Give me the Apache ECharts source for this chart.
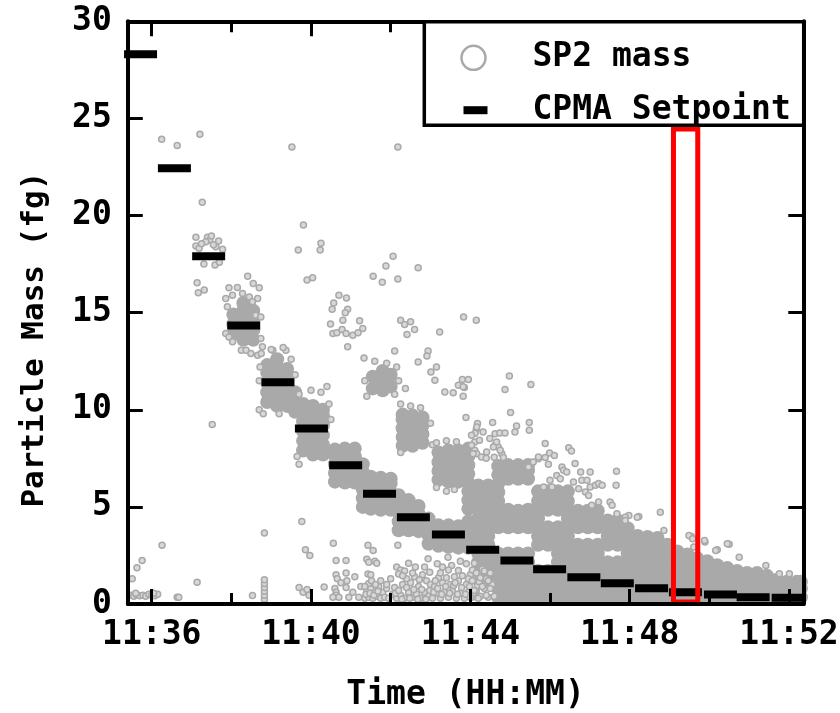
<!DOCTYPE html>
<html><head><meta charset="utf-8">
<script src="https://cdn.jsdelivr.net/npm/echarts@6/dist/echarts.min.js"></script>
<style>html,body{margin:0;padding:0;background:#fff}#c{width:840px;height:713px}</style>
</head><body><div id="c"></div>
<script>
const FONT = '"DejaVu Sans Mono", "Liberation Mono", monospace';

// ---- axes ----
const xMin = 35.4, xMax = 52.36;             // minutes after 11:00
const xTickValues = [36, 40, 44, 48, 52];
const xTickLabels = ['11:36', '11:40', '11:44', '11:48', '11:52'];
const xMinorTickValues = [38, 42, 46, 50];
const yMin = 0, yMax = 30, yInterval = 5;

// ---- CPMA setpoints (time in minutes after 11:00, mass in fg) ----
const setpointTimes = [35.72, 36.57, 37.43, 38.31, 39.17, 40.01, 40.87, 41.72, 42.57, 43.45,
                       44.31, 45.17, 45.99, 46.85, 47.69, 48.55, 49.40, 50.28, 51.10, 51.98];
const setpointMass  = [28.31, 22.43, 17.91, 14.34, 11.42, 9.03, 7.14, 5.68, 4.47, 3.58,
                       2.79, 2.24, 1.79, 1.38, 1.07, 0.81, 0.61, 0.49, 0.35, 0.32];

// ---- highlighted window (red box) ----
const highlightTimeRange = [49.10, 49.71];
const highlightMassRange = [0.1, 24.46];

// ---- SP2 mass: individual (isolated) particles [time, mass] ----
const sp2Sparse = [
 [36.25,23.93],[36.64,23.6],[37.21,24.19],[37.27,20.68],[39.52,23.53],[42.18,23.53],[37.52,9.24],
 [37.11,18.88],[37.40,18.88],[37.46,18.74],[37.36,18.65],[37.68,18.69],[37.11,18.43],[37.19,18.31],[37.61,18.39],[37.78,18.26],[37.31,17.5],[37.59,17.45],[37.14,16.54],[37.17,16.02],[37.32,16.16],[37.50,18.95],[37.25,18.55],[37.55,18.5],[37.7,17.6],
 [37.86,15.73],[38.03,15.9],[38.28,15.99],[38.45,15.81],[38.53,15.56],[38.66,15.73],[37.90,15.3],[38.61,14.87],[38.74,14.78],[37.86,13.93],[37.94,13.75],[38.03,13.5],[38.25,13.07],[38.37,13.07],[38.49,12.9],[38.74,13.67],[38.78,13.24],[38.66,12.81],[37.94,16.28],[38.41,16.88],[38.70,16.28],[38.15,16.3],[38.55,16.5],[39.04,13.07],[39.37,13.07],
 [38.75,12.9],[39.0,13.1],[39.3,13.2],[38.7,10.0],[39.5,12.6],[38.7,11.5],[39.6,11.8],[38.8,9.8],[39.2,9.8],[38.72,12.2],
 [39.7,10.8],[40.0,11.0],[40.25,10.9],[40.45,10.3],[39.65,7.6],[39.7,7.2],[40.4,11.2],[40.5,9.5],
 [39.81,19.51],[40.25,18.57],[39.68,18.22],[40.23,18.22],[39.90,16.68],[40.04,16.8],
 [40.70,15.9],[40.89,15.76],[40.57,15.5],[40.53,15.18],[40.92,15.18],[40.86,14.99],[40.80,14.61],[40.49,14.41],[41.22,14.58],[40.55,13.93],[40.65,13.96],[40.78,14.13],[40.88,13.93],[41.05,13.84],[41.18,13.96],[41.30,14.19],[40.92,13.24],
 [42.06,17.91],[41.88,17.4],[41.56,16.88],[41.79,16.56],[42.18,16.73],[42.69,17.31],
 [42.25,14.61],[42.35,14.39],[42.50,14.53],[42.60,14.13],[42.41,13.88],[43.23,14.01],[43.83,14.78],[44.15,14.61],
 [42.10,13.03],[42.94,13.03],[42.91,12.77],[42.69,12.46],[43.15,12.2],[43.01,11.95],[43.11,11.52],[43.80,11.56],[43.95,11.56],[43.70,11.26],[43.85,11.14],[43.36,10.92],[43.57,10.87],[43.82,10.7],[42.37,11.09],[41.33,12.67],
 [41.4,10.7],[42.1,10.8],[41.6,12.5],[41.9,12.4],[42.15,12.2],[41.35,11.5],[42.2,11.5],
 [42.25,10.3],[42.5,10.2],[42.75,10.1],[43.0,9.3],[43.05,8.2],[42.25,7.8],
 [43.15,8.3],[43.4,8.4],[43.65,8.35],[43.15,6.0],[43.4,5.8],[43.6,5.9],
 [44.98,11.74],[44.87,11.04],[45.52,11.3],[43.82,11.18],[45.01,9.86],[43.89,9.6],[45.48,9.34],[45.48,8.94],[44.56,9.34],[44.18,9.29],[44.15,9.0],[44.12,8.79],
 [44.16,9.11],[44.32,8.86],[44.03,8.69],[44.62,8.77],[44.74,8.8],[44.87,8.8],[45.12,8.86],[45.16,9.16],[44.11,8.34],[44.23,8.43],[44.49,8.52],[44.62,8.17],[44.70,8.08],[44.41,7.82],[44.79,7.74],[44.83,7.54],[44.11,7.91],[44.03,8.17],
 [44.66,8.34],[44.58,8.08],[44.75,7.91],[44.16,7.74],[44.07,7.74],[44.28,7.57],[44.4,7.5],[44.6,7.55],
 [45.88,8.26],[45.71,7.48],[45.88,7.54],[45.99,7.77],[46.11,7.65],[45.96,7.19],[46.47,8.05],[46.54,7.88],[46.63,7.23],[46.30,7.05],[46.34,6.88],[46.17,6.62],[46.26,6.45],[46.42,6.79],[46.0,6.37],[45.84,6.02],[46.05,6.02],
 [46.77,6.79],[47.01,6.79],[46.59,6.28],[46.80,6.37],[46.93,6.37],[46.72,5.94],[46.89,5.76],[47.01,6.02],[47.14,6.11],[47.22,6.2],[47.31,6.11],[47.67,6.83],[47.66,6.11],
 [47.51,5.25],[47.56,5.08],[47.22,5.25],[46.97,5.59],[47.05,5.08],[48.23,4.51],[47.98,4.56],[47.89,4.47],[47.68,4.65],[45.58,7.31],[45.71,7.57],[45.46,7.05],
 [48.19,4.47],[48.77,4.73],[48.86,3.79],[49.55,3.48],[49.61,2.93],[49.89,3.19],[50.20,2.79],[50.50,3.07],[50.75,2.41],[51.42,1.98],[51.76,1.56],[52.01,1.56],[47.89,4.3],[50.45,3.1],[50.16,2.76],[49.49,3.53],[49.58,3.36],[49.88,3.27],
 [35.48,0.45],[35.55,0.4],[35.62,0.48],[35.7,0.42],[35.78,0.45],[35.85,0.4],[35.93,0.5],[36.0,0.45],[36.08,0.42],[36.15,0.5],[36.05,0.55],[35.6,0.55],
 [35.51,1.3],[35.63,1.87],[35.76,2.24],[36.26,3.02],[36.64,0.35],[36.68,0.35],[37.14,1.12],[38.53,0.44],[38.83,3.65],
 [38.83,0.25],[38.83,0.45],[38.83,0.65],[38.83,0.85],[38.83,1.05],[38.83,1.25],
 [39.77,4.25],[39.86,2.79],[39.97,2.5],[39.7,0.85],[39.8,0.6],[39.9,0.75],[39.95,0.45],[40.33,0.87],[40.56,3.13],[40.63,2.24],[40.88,2.24],[40.63,1.5],[40.66,1.3],[40.88,1.6],[40.6,0.8],[40.63,0.6],[40.63,0.45],[40.88,0.85],
 [40.55,0.35],[40.7,0.35],[40.75,1.1],[40.9,1.2],[40.95,0.35],[41.05,0.6],[41.1,1.4],[41.2,0.35],[41.25,0.9],
 [41.43,3.02],[41.56,2.76],[41.4,2.3],[41.45,2.15],[41.6,2.2],[41.65,2.1],[41.43,1.55],[41.5,1.5],
 [41.35,0.3],[41.45,0.35],[41.55,0.3],[41.65,0.4],[41.4,0.65],[41.5,0.8],[41.6,0.6],[41.7,0.9],[41.45,1.05],[41.35,0.9],[41.75,0.3],[41.8,0.6],
 [41.38,0.5],[41.48,0.55],[41.58,0.45],[41.68,0.65],[41.52,1.2],[41.62,1.0],[41.75,1.2],[41.85,0.35],[41.9,0.8],[41.9,1.0],
 [42.18,3.02],[42.15,1.9],[42.25,1.75],[42.35,1.7],[42.2,1.55],
 [41.95,0.3],[42.05,0.5],[42.15,0.3],[42.25,0.45],[42.35,0.3],[42.45,0.6],[42.55,0.35],[42.65,0.5],[42.75,0.3],[42.85,0.6],[42.95,0.4],[42.1,0.85],[42.3,1.0],[42.5,1.1],[42.7,0.9],[42.9,1.2],[42.0,1.3],[42.6,1.4],[42.8,1.5],
 [42.12,0.55],[42.2,0.7],[42.28,0.25],[42.4,0.85],[42.48,0.3],[42.58,0.75],[42.68,0.25],[42.78,0.75],[42.88,0.25],[42.98,0.7],[42.4,1.3],[42.55,1.6],[42.72,1.25],[42.85,1.9],[43.0,1.0],[42.3,1.45],[42.62,1.9],[42.45,2.1],
 [42.94,2.33],[43.17,2.07],[42.98,1.64],[43.53,1.98],[43.7,1.73],[43.9,2.07],[44.2,1.64],[43.44,2.41],
 [43.05,0.3],[43.15,0.55],[43.25,0.3],[43.35,0.6],[43.45,0.35],[43.55,0.65],[43.65,0.3],[43.75,0.55],[43.85,0.3],[43.95,0.6],[44.05,0.35],[44.15,0.7],[43.1,0.9],[43.3,1.1],[43.5,1.0],[43.7,1.2],[43.9,1.0],[44.1,1.2],[43.2,1.35],[43.6,1.4],[44.0,1.5],[44.25,0.4],[44.35,0.8],[44.45,0.35],[44.55,1.0],[44.4,1.3],[44.3,1.8],[44.5,1.6],
 [43.08,0.6],[43.18,0.8],[43.28,0.5],[43.38,0.9],[43.48,0.55],[43.58,0.95],[43.68,0.5],[43.78,0.85],[43.88,0.5],[43.98,0.9],[44.08,0.55],[44.18,0.95],[43.12,1.2],[43.25,1.6],[43.4,1.35],[43.45,1.75],[43.62,1.1],[43.8,1.45],[43.95,1.3],[44.05,1.75],[44.22,1.15],[43.3,1.9],[43.75,2.2],[44.1,2.1],
 [44.0,0.35],[44.1,0.7],[44.2,0.3],[44.3,0.9],[44.4,0.45],[44.5,0.8],[44.05,1.2],[44.25,1.35],[44.45,1.2],[44.15,1.6],[44.35,1.7],[44.6,0.4]
];

// ---- SP2 mass: densely overlapping particles, per time column [time, mass, mass, ...] ----
const sp2DenseCols = [
 [38.05, 13.9, 14.4, 14.9],
 [38.3, 13.6, 14.1, 14.6, 15.1, 15.5],
 [38.55, 13.6, 14.1, 14.6, 15.1],
 [38.9, 10.4, 10.9, 11.4, 11.9, 12.3],
 [39.15, 10.2, 10.7, 11.2, 11.7, 12.2, 12.6],
 [39.4, 10.2, 10.7, 11.2, 11.7, 12.1],
 [39.6, 9.9, 10.4, 10.9],
 [39.8, 7.9, 8.4, 8.9, 9.4, 9.9, 10.3],
 [40.05, 7.7, 8.2, 8.7, 9.2, 9.7, 10.2],
 [40.3, 7.7, 8.2, 8.7, 9.2, 9.7, 10.0],
 [40.6, 6.3, 6.75, 7.2, 7.65, 7.95],
 [40.85, 6.25, 6.7, 7.15, 7.6, 8.0],
 [41.1, 6.25, 6.7, 7.15, 7.6, 8.0],
 [41.3, 5.0, 5.45, 5.9, 6.35, 6.8, 7.2],
 [41.5, 4.9, 5.35, 5.8, 6.25, 6.55],
 [41.75, 4.85, 5.3, 5.75, 6.2, 6.5],
 [42.0, 4.85, 5.3, 5.75, 6.2, 6.45],
 [42.2, 3.8, 4.25, 4.7, 5.15, 5.6],
 [42.45, 3.8, 4.25, 4.7, 5.15, 5.35],
 [42.7, 3.75, 4.2, 4.65, 5.05],
 [42.95, 3.1, 3.55, 4.0, 4.4],
 [43.2, 3.0, 3.45, 3.9, 4.05],
 [43.45, 2.95, 3.4, 3.85, 4.05],
 [43.7, 2.9, 3.35, 3.8, 4.0],
 [41.55, 11.1, 11.7],
 [41.8, 11.0, 11.5, 12.0],
 [42.0, 11.2, 11.8],
 [42.3, 8.15, 8.6, 9.05, 9.5, 9.75],
 [42.55, 8.15, 8.6, 9.05, 9.5, 9.7],
 [42.8, 8.3, 8.75, 9.2, 9.6],
 [43.2, 6.4, 6.85, 7.3, 7.8],
 [43.45, 6.3, 6.75, 7.2, 7.65, 7.9],
 [43.7, 6.3, 6.75, 7.2, 7.65, 7.9],
 [43.95, 2.9, 3.35, 3.8, 4.25, 4.9, 5.35, 5.8, 6.25, 6.7, 7.15, 7.6, 8.0],
 [44.2, 1.7, 2.15, 2.6, 3.05, 3.5, 3.95, 4.4, 4.85, 5.3, 5.75, 6.1],
 [44.45, 1.25, 1.7, 2.15, 2.6, 3.05, 3.5, 3.95, 4.4, 4.85, 5.3, 5.75, 6.1],
 [44.7, 0.35, 0.8, 1.25, 1.7, 2.15, 2.6, 3.95, 4.4, 4.85, 5.3, 5.75, 6.2, 6.65, 7.1],
 [44.95, 0.35, 0.8, 1.25, 1.7, 2.15, 2.6, 3.95, 4.4, 4.85, 6.45, 6.9, 7.15],
 [45.2, 0.35, 0.8, 1.25, 1.7, 2.15, 2.6, 3.95, 4.4, 4.8, 6.45, 6.9, 7.15],
 [45.45, 0.35, 0.8, 1.25, 1.7, 2.15, 2.6, 3.95, 4.4, 4.85, 6.45, 6.9, 7.15],
 [45.7, 0.35, 0.8, 1.25, 1.7, 3.05, 3.5, 3.95, 4.4, 4.85, 5.3, 5.8],
 [45.95, 0.35, 0.8, 1.25, 1.7, 3.05, 3.5, 3.95, 4.85, 5.3, 5.8],
 [46.2, 0.35, 0.8, 1.25, 1.7, 2.15, 2.6, 3.05, 3.5, 3.95, 4.85, 5.3, 5.8],
 [46.45, 0.35, 0.8, 1.25, 1.7, 2.15, 2.6, 3.05, 3.5, 3.95, 4.4, 4.85, 5.3, 5.8],
 [46.7, 0.35, 0.8, 1.25, 1.7, 2.15, 2.6, 3.05, 3.95, 4.4, 4.8],
 [46.95, 0.35, 0.8, 1.25, 1.7, 2.15, 2.6, 3.05, 3.95, 4.4, 4.8],
 [47.2, 0.35, 0.8, 1.25, 1.7, 2.15, 2.6, 3.05, 3.95, 4.4, 4.8],
 [47.45, 0.35, 0.8, 1.25, 1.7, 2.15, 3.05, 3.5, 3.95, 4.3],
 [47.7, 0.35, 0.8, 1.25, 1.7, 2.15, 3.05, 3.5, 3.95, 4.3],
 [47.95, 0.35, 0.8, 1.25, 1.7, 2.15, 2.6, 3.05, 3.5, 3.9],
 [48.2, 0.35, 0.8, 1.25, 1.7, 2.15, 2.6, 3.05, 3.5],
 [48.45, 0.35, 0.8, 1.25, 1.7, 2.15, 2.6, 3.05, 3.45],
 [48.7, 0.35, 0.8, 1.25, 1.7, 2.15, 2.6, 3.05, 3.4],
 [48.95, 0.35, 0.8, 1.25, 1.7, 2.15, 2.6, 3.05],
 [49.2, 0.35, 0.8, 1.25, 1.7, 2.15, 2.7],
 [49.45, 0.35, 0.8, 1.25, 1.7, 2.15, 2.55],
 [49.7, 0.35, 0.8, 1.25, 1.7, 2.1, 2.35],
 [49.95, 0.35, 0.8, 1.25, 1.7, 2.2],
 [50.2, 0.35, 0.8, 1.25, 1.65, 2.0],
 [50.45, 0.35, 0.8, 1.25, 1.6, 1.85],
 [50.7, 0.35, 0.8, 1.25, 1.7],
 [50.95, 0.35, 0.8, 1.25, 1.6],
 [51.2, 0.35, 0.8, 1.25, 1.6],
 [51.45, 0.35, 0.8, 1.2, 1.45],
 [51.7, 0.35, 0.8, 1.25],
 [51.95, 0.35, 0.8, 1.15],
 [52.2, 0.35, 0.8, 1.15],
 [52.3, 0.35, 0.8, 1.15]
];

// ---- build series data from the arrays ----
const denseData = sp2DenseCols.flatMap(c => c.slice(1).map(m => [c[0], m]));
const setpointData = setpointTimes.map((t, i) => [t, setpointMass[i]]);
const [h0, h1] = highlightTimeRange, [hm0, hm1] = highlightMassRange;
const highlightData = [[h0, hm0], [h0, hm1], [h1, hm1], [h1, hm0], [h0, hm0]];

const GRAY = '#a9a9a9';
const txt = (size) => ({ fontFamily: FONT, fontWeight: 'bold', fontSize: size, color: '#000' });
const axisLine = { show: true, onZero: false, lineStyle: { color: '#000', width: 4 } };

const chart = echarts.init(document.getElementById('c'), null, { renderer: 'canvas' });
chart.setOption({
  animation: false,
  backgroundColor: '#fff',
  textStyle: { fontFamily: FONT },
  grid: { left: 127.8, right: 36.7, top: 21.3, bottom: 109, containLabel: false, outerBoundsMode: 'none' },
  xAxis: [
    { type: 'value', position: 'bottom', min: xMin, max: xMax, z: 5,
      axisLine: axisLine,
      axisTick: { show: true, inside: true, length: 15, customValues: xTickValues, lineStyle: { color: '#000', width: 3 } },
      axisLabel: Object.assign({ show: true, customValues: xTickValues, margin: 15,
        formatter: v => xTickLabels[xTickValues.indexOf(Math.round(v))] }, txt(33)),
      splitLine: { show: false },
      name: 'Time (HH:MM)', nameLocation: 'middle', nameGap: 75, nameTextStyle: txt(33) },
    { type: 'value', position: 'bottom', min: xMin, max: xMax, z: 5,
      axisLine: { show: false, onZero: false },
      axisTick: { show: true, inside: true, length: 11, customValues: xMinorTickValues, lineStyle: { color: '#000', width: 3 } },
      axisLabel: { show: false }, splitLine: { show: false } },
    { type: 'value', position: 'top', min: xMin, max: xMax, z: 5,
      axisLine: axisLine,
      axisTick: { show: true, inside: true, length: 15, customValues: xTickValues, lineStyle: { color: '#000', width: 3 } },
      axisLabel: { show: false }, splitLine: { show: false } },
    { type: 'value', position: 'top', min: xMin, max: xMax, z: 5,
      axisLine: { show: false, onZero: false },
      axisTick: { show: true, inside: true, length: 11, customValues: xMinorTickValues, lineStyle: { color: '#000', width: 3 } },
      axisLabel: { show: false }, splitLine: { show: false } }
  ],
  yAxis: [
    { type: 'value', position: 'left', min: yMin, max: yMax, interval: yInterval, z: 5,
      axisLine: axisLine,
      axisTick: { show: true, inside: true, length: 15, lineStyle: { color: '#000', width: 3 } },
      axisLabel: Object.assign({ margin: 16 }, txt(33)),
      splitLine: { show: false },
      name: 'Particle Mass (fg)', nameLocation: 'middle', nameGap: 77,
      nameTextStyle: Object.assign({ padding: [0, 54, 0, 0] }, txt(31)) },
    { type: 'value', position: 'right', min: yMin, max: yMax, interval: yInterval, z: 5,
      axisLine: axisLine,
      axisTick: { show: true, inside: true, length: 15, lineStyle: { color: '#000', width: 3 } },
      axisLabel: { show: false }, splitLine: { show: false } }
  ],
  legend: {
    z: 101, orient: 'vertical', left: 419.5, top: 41.3, padding: 0,
    itemWidth: 108, itemHeight: 24, itemGap: 19.4, selectedMode: false,
    textStyle: txt(33),
    data: [
      { name: 'SP2 mass', icon: 'circle', itemStyle: { color: '#fff', borderColor: GRAY, borderWidth: 2.5, opacity: 1 } },
      { name: 'CPMA Setpoint', icon: 'path://M0,0L0,0M108,24L108,24M44,8L68,8L68,16L44,16Z',
        itemStyle: { color: '#000', borderWidth: 0, opacity: 1 } }
    ]
  },
  graphic: [
    { type: 'rect', z: 100, shape: { x: 424.3, y: 21.7, width: 379.4, height: 103.6 },
      style: { fill: '#fff', stroke: '#000', lineWidth: 3.5 } }
  ],
  series: [
    { name: 'SP2 mass', type: 'scatter', data: denseData, symbol: 'circle', symbolSize: 14,
      itemStyle: { color: GRAY, opacity: 1 }, z: 2, silent: true },
    { name: 'SP2 mass', type: 'scatter', data: sp2Sparse, symbol: 'circle', symbolSize: 6,
      itemStyle: { color: '#d8d8d8', borderColor: GRAY, borderWidth: 1.5, opacity: 1 }, z: 2, silent: true },
    { name: 'CPMA Setpoint', type: 'scatter', data: setpointData, symbol: 'rect', symbolSize: [33, 8],
      itemStyle: { color: '#000', opacity: 1 }, z: 3, clip: false, silent: true },
    { name: 'highlight', type: 'line', data: highlightData, symbol: 'none', z: 4, clip: false, silent: true,
      lineStyle: { color: '#ff0000', width: 5, join: 'miter', cap: 'square', opacity: 1 } }
  ]
});
</script>
</body></html>
